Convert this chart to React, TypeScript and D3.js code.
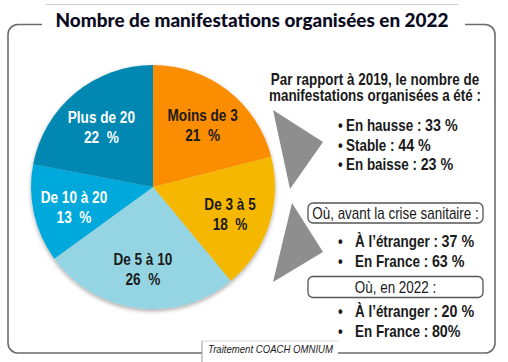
import React from 'react';
import * as d3 from 'd3';

// pie data
const categories = ['Moins de 3', 'De 3 à 5', 'De 5 à 10', 'De 10 à 20', 'Plus de 20'];
const shares = [21, 18, 26, 13, 22];
const sliceColors = ['#FB8D00', '#F6B700', '#95D5E3', '#00A9DC', '#0088B3'];
const labelColors = ['#1a1a1a', '#1a1a1a', '#1a1a1a', '#ffffff', '#ffffff'];

// side notes
const evolLabels = ['En hausse', 'Stable', 'En baisse'];
const evolValues = ['33 %', '44 %', '23 %'];
const beforeLabels = ['À l’étranger', 'En France'];
const beforeValues = ['37 %', '63 %'];
const nowLabels = ['À l’étranger', 'En France'];
const nowValues = ['20 %', '80%'];

const sans = "'Liberation Sans', Arial, sans-serif";

// no narrow font installed: squeeze Liberation Sans horizontally
function NText(props: { x: number; y: number; anchor?: string; size?: number; bold?: boolean; fill?: string; sx?: number; children: React.ReactNode }) {
  const { x, y, anchor = 'start', size = 16, bold = true, fill = '#1a1a1a', sx = 0.84, children } = props;
  return (
    <text transform={`translate(${x},${y}) scale(${sx},1)`} textAnchor={anchor} fontFamily={sans}
      fontWeight={bold ? 'bold' : 'normal'} fontSize={size} fill={fill} xmlSpace="preserve">
      {children}
    </text>
  );
}

export default function App() {
  const width = 508, height = 362;
  const cx = 153, cy = 187, r = 122;

  const pie = d3.pie<number>().sort(null).value(d => d);
  const arcs = pie(shares);
  const arcGen = d3.arc<d3.PieArcDatum<number>>().innerRadius(0).outerRadius(r);
  const labelArc = d3.arc<d3.PieArcDatum<number>>().innerRadius(81).outerRadius(81);

  const frameStroke = '#6b6b6b';

  const bullet = (y: number, tx: number, label: string, value: string, key: string) => (
    <g key={key}>
      <NText x={338} y={y}>•</NText>
      <NText x={tx} y={y}>{label} : <tspan fontSize={17}>{value}</tspan></NText>
    </g>
  );

  return (
    <svg width={width} height={height} style={{ position: 'absolute', left: 0, top: 0, background: '#fff' }}>
      <defs>
        <filter id="shadow" x="-20%" y="-20%" width="140%" height="140%">
          <feDropShadow dx="0" dy="2" stdDeviation="2" floodColor="#000" floodOpacity="0.35" />
        </filter>
      </defs>

      {/* top thin line */}
      <line x1={46} x2={458} y1={4.5} y2={4.5} stroke="#cfcfcf" strokeWidth={1} />

      {/* frame */}
      <path d="M42,24.5 H18 A10,10 0 0 0 8,34.5 V343 A10,10 0 0 0 18,353 H202"
        fill="none" stroke={frameStroke} strokeWidth={1.6} />
      <path d="M465,24.5 H485 A10,10 0 0 1 495,34.5 V343 A10,10 0 0 1 485,353 H338"
        fill="none" stroke={frameStroke} strokeWidth={1.6} />

      {/* title */}
      <text x={252} y={27} textAnchor="middle" fontFamily="Lato, 'DejaVu Sans', sans-serif" fontWeight="900"
        fontSize={18.5} fill="#0b0b1f" textLength={393} lengthAdjust="spacingAndGlyphs">
        Nombre de manifestations organisées en 2022
      </text>

      {/* pie */}
      <g transform={`translate(${cx},${cy})`}>
        <g filter="url(#shadow)">
          {arcs.map((a, i) => (
            <path key={i} d={arcGen(a) || ''} fill={sliceColors[i]} />
          ))}
        </g>
        {arcs.map((a, i) => {
          const [lx, ly] = labelArc.centroid(a);
          return (
            <g key={'l' + i}>
              <NText x={lx} y={ly - 2} anchor="middle" size={17} sx={0.8} fill={labelColors[i]}>{categories[i]}</NText>
              <NText x={lx} y={ly + 18} anchor="middle" size={17} sx={0.8} fill={labelColors[i]}>{shares[i] + '  %'}</NText>
            </g>
          );
        })}
      </g>

      {/* arrows */}
      <polygon points="273,110 323,142 290,189" fill="#8e8e8e" />
      <polygon points="292,203 323,252 273,282" fill="#8e8e8e" />

      {/* comparison to 2019 */}
      <NText x={375} y={85} anchor="middle">Par rapport à 2019, le nombre de</NText>
      <NText x={375} y={101} anchor="middle">manifestations organisées a été :</NText>
      {evolLabels.map((l, i) => bullet(131 + i * 19.5, 346, l, evolValues[i], 'e' + i))}

      {/* before health crisis */}
      <rect x={308} y={203} width={175} height={20} rx={5} fill="#fff" stroke="#555" strokeWidth={1.3} />
      <NText x={395.5} y={219} anchor="middle" bold={false}>Où, avant la crise sanitaire :</NText>
      {beforeLabels.map((l, i) => bullet(247 + i * 20, 355, l, beforeValues[i], 'b' + i))}

      {/* in 2022 */}
      <rect x={308} y={276.5} width={175} height={21} rx={5} fill="#fff" stroke="#555" strokeWidth={1.3} />
      <NText x={395.5} y={293} anchor="middle" bold={false}>Où, en 2022 :</NText>
      {nowLabels.map((l, i) => bullet(317 + i * 20, 355, l, nowValues[i], 'n' + i))}

      {/* footer */}
      <line x1={202} x2={338} y1={341} y2={341} stroke="#d8d8d8" strokeWidth={1} />
      <line x1={202} x2={202} y1={341} y2={362} stroke="#9a9a9a" strokeWidth={1} />
      <text x={208} y={353} fontFamily={sans} fontStyle="italic" fontSize={11}
        fill="#1a1a1a" textLength={125} lengthAdjust="spacingAndGlyphs">
        Traitement COACH OMNIUM
      </text>
    </svg>
  );
}
